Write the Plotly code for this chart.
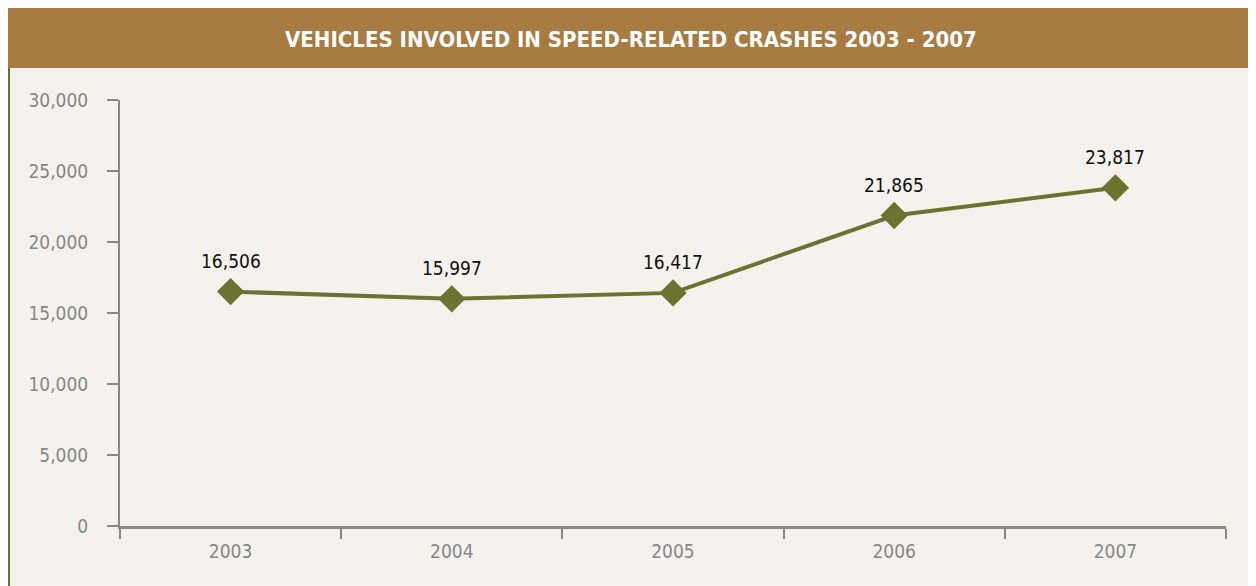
import plotly.graph_objects as go

years = ["2003", "2004", "2005", "2006", "2007"]
vehicles = [16506, 15997, 16417, 21865, 23817]
value_labels = ["16,506", "15,997", "16,417", "21,865", "23,817"]
y_ticks = [0, 5000, 10000, 15000, 20000, 25000, 30000]
title_text = "VEHICLES INVOLVED IN SPEED-RELATED CRASHES 2003 - 2007"

FONT = "Liberation Sans Narrow, DejaVu Sans Condensed, Arial Narrow, sans-serif"
OLIVE = "#6B7330"
GRAY = "#858789"

fig = go.Figure()
fig.add_trace(go.Scatter(
    x=years, y=vehicles, mode="lines+markers",
    line=dict(color=OLIVE, width=4),
    marker=dict(symbol="diamond", size=21, color=OLIVE),
    hoverinfo="skip", showlegend=False,
))

for i, (y, t) in enumerate(zip(vehicles, value_labels)):
    fig.add_annotation(x=i, y=y, text=t, showarrow=False, yshift=31,
                       font=dict(family=FONT, size=19, color="#111111"))

W, H = 1256, 586
L, T = 112, 92
R, B = W - 1218, H - 518


def px_shape(x0, x1, y0, y1, color):
    fig.add_shape(type="rect", xref="paper", yref="paper",
                  xsizemode="pixel", ysizemode="pixel", xanchor=0, yanchor=1,
                  x0=x0 - L, x1=x1 - L, y0=T - y0, y1=T - y1,
                  fillcolor=color, line=dict(width=0), layer="below")


px_shape(-1, 1249, 60, 600, OLIVE)
px_shape(2, 1245, 60, 600, "#F5F2ED")
px_shape(-1, 1249, -1, 60, "#A87B42")

fig.add_annotation(xref="paper", yref="paper", x=(623 - L) / (W - L - R),
                   y=1 + (T - 31) / (H - T - B), text="<b>" + title_text + "</b>",
                   showarrow=False, xanchor="center", yanchor="middle",
                   font=dict(family=FONT, size=22, color="white"))

fig.update_layout(
    width=W, height=H,
    margin=dict(l=L, r=R, t=T, b=B),
    paper_bgcolor="white", plot_bgcolor="rgba(0,0,0,0)",
    xaxis=dict(type="category", range=[-0.5, 4.5], tickson="boundaries",
               ticks="outside", ticklen=10, tickwidth=2, tickcolor=GRAY,
               showline=True, linecolor=GRAY, linewidth=3, showgrid=False,
               ticklabelstandoff=6,
               tickfont=dict(family=FONT, size=19, color=GRAY), zeroline=False),
    yaxis=dict(range=[0, 30000], tickvals=y_ticks, tickformat=",",
               ticks="outside", ticklen=11, tickwidth=2, tickcolor=GRAY,
               showline=True, linecolor=GRAY, linewidth=2, showgrid=False,
               zeroline=False, ticklabelstandoff=15,
               tickfont=dict(family=FONT, size=19, color=GRAY)),
)

fig.write_html("out.html")
